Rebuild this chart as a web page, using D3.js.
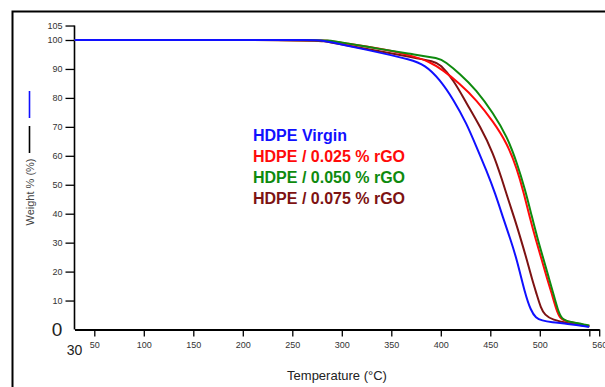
<!DOCTYPE html>
<html>
<head>
<meta charset="utf-8">
<script src="https://cdn.jsdelivr.net/npm/d3@7"></script>
<style>
  body { margin: 0; background: #fff; }
  svg { display: block; font-family: "Liberation Sans", Arial, sans-serif; }
</style>
</head>
<body>
<div id="chart"></div>
<script>
// TGA curves, [temperature °C, weight %]
const virgin = [[30,100],[200,100],[272,100],[280,99.8],[300,98.5],[340,95.5],[369,93.3],[384,91.4],[399,86.4],[413,79.3],[426,71.2],[436,63.1],[446,55],[455,47],[463,38.5],[470,31.5],[477,24],[485,12.5],[491,6.5],[496,4],[502,3.1],[512,2.5],[527,2],[549,1],[550,0.9]];
const rgo025 = [[30,100],[272,100],[285,99.8],[300,99],[340,97],[369,94.8],[389,92.5],[402,89.6],[419,85],[436,79.3],[453,71.8],[467,64.3],[477,55.5],[484,47],[490,38.5],[496,31],[502,24],[507,18],[512,12.5],[517,6.5],[520.5,3.8],[527,2.7],[549,1.3],[550,1.2]];
const rgo050 = [[30,100],[272,100],[285,99.9],[300,99.2],[340,96.8],[369,95.2],[399,93.7],[404,92.5],[419,88.5],[436,82.7],[453,74.7],[467,66.6],[477,57.5],[485,48.5],[492,39],[498,31],[504,24],[509,18],[514,12],[518,7],[522,3.5],[530,2.6],[549,1.5],[550,1.4]];
const rgo075 = [[30,100],[272,100],[280,99.7],[300,98.5],[340,96],[369,94.2],[394,92.5],[399,91.7],[413,86.2],[426,78.1],[440,70],[453,60.9],[462,51.6],[468,45],[475,37.8],[481,31],[487,24],[492,17.5],[497,12],[501,7.5],[505,5],[513,3.3],[528,2.2],[549,1.1],[550,1]];

const seriesNames = ["HDPE Virgin", "HDPE / 0.025 % rGO", "HDPE / 0.050 % rGO", "HDPE / 0.075 % rGO"];
const seriesColors = ["#1010ff", "#ff0a0a", "#0e8a0e", "#7d1212"];
const seriesData = [virgin, rgo025, rgo050, rgo075];

const xTicks = [50, 100, 150, 200, 250, 300, 350, 400, 450, 500, 550, 560];
const xTickLabels = ["50", "100", "150", "200", "250", "300", "350", "400", "450", "500", "", "560"];
const yTicks = [10, 20, 30, 40, 50, 60, 70, 80, 90, 100, 105];

const width = 605, height = 387;

let svg = d3.select("#chart")
    .append("svg")
    .attr("width", width)
    .attr("height", height);

// outer frame (runs off the right and bottom edge)
svg.append("path")
    .attr("d", "M12.5,390V11.5H610")
    .attr("fill", "none")
    .attr("stroke", "#000")
    .attr("stroke-width", 2);

let x = d3.scaleLinear().domain([30, 560]).range([74.5, 599.2]);
let y = d3.scaleLinear().domain([0, 100]).range([329.5, 40]);

// y axis
let yAxis = svg.append("g")
    .attr("transform", "translate(74.5,0)")
    .call(d3.axisLeft(y).tickValues(yTicks).tickSize(9).tickPadding(3).tickSizeOuter(0));
yAxis.select(".domain").attr("d", `M0,${y(105)}V${y(0)}`).attr("stroke-width", 1.6);
yAxis.selectAll(".tick line").attr("stroke-width", 1.3);
yAxis.selectAll(".tick text").attr("font-size", 9).attr("fill", "#333");

// x axis
let xAxis = svg.append("g")
    .attr("transform", `translate(0,${y(0)})`)
    .call(d3.axisBottom(x).tickValues(xTicks).tickFormat((d, i) => xTickLabels[i]).tickSize(7).tickPadding(5).tickSizeOuter(0));
xAxis.select(".domain").attr("stroke-width", 1.8);
xAxis.selectAll(".tick line").attr("stroke-width", 1.3);
xAxis.selectAll(".tick text").attr("font-size", 9).attr("fill", "#333");

// origin labels
svg.append("text")
    .attr("x", 57).attr("y", y(0) + 6)
    .attr("text-anchor", "middle")
    .attr("font-size", 19)
    .attr("fill", "#222")
    .text("0");
svg.append("text")
    .attr("x", x(30)).attr("y", 355)
    .attr("text-anchor", "middle")
    .attr("font-size", 14)
    .attr("fill", "#222")
    .text("30");

// curves - basis to smooth out reading noise
let line = d3.line()
    .x(d => x(d[0]))
    .y(d => y(d[1]))
    .curve(d3.curveBasis);

let drawOrder = [3, 1, 2, 0];
svg.append("g")
    .selectAll("path")
    .data(drawOrder)
    .enter()
    .append("path")
    .attr("d", i => line(seriesData[i]))
    .attr("fill", "none")
    .attr("stroke", i => seriesColors[i])
    .attr("stroke-width", 2)
    .attr("stroke-linejoin", "round");

// legend text
svg.append("g")
    .selectAll("text")
    .data(seriesNames)
    .enter()
    .append("text")
    .attr("x", 253)
    .attr("y", (d, i) => 141 + i * 21)
    .attr("font-size", 16)
    .attr("font-weight", "bold")
    .attr("fill", (d, i) => seriesColors[i])
    .text(d => d);

// axis titles
svg.append("text")
    .attr("transform", "translate(34,192) rotate(-90)")
    .attr("text-anchor", "middle")
    .attr("font-size", 11)
    .attr("fill", "#444")
    .text("Weight % (%)");
svg.append("line")
    .attr("x1", 29.5).attr("x2", 29.5).attr("y1", 91).attr("y2", 118)
    .attr("stroke", "#1010ff").attr("stroke-width", 1.6);
svg.append("line")
    .attr("x1", 29.5).attr("x2", 29.5).attr("y1", 126).attr("y2", 153)
    .attr("stroke", "#000").attr("stroke-width", 1.6);

svg.append("text")
    .attr("x", 337).attr("y", 380)
    .attr("text-anchor", "middle")
    .attr("font-size", 13)
    .attr("fill", "#222")
    .text("Temperature (°C)");
</script>
</body>
</html>
